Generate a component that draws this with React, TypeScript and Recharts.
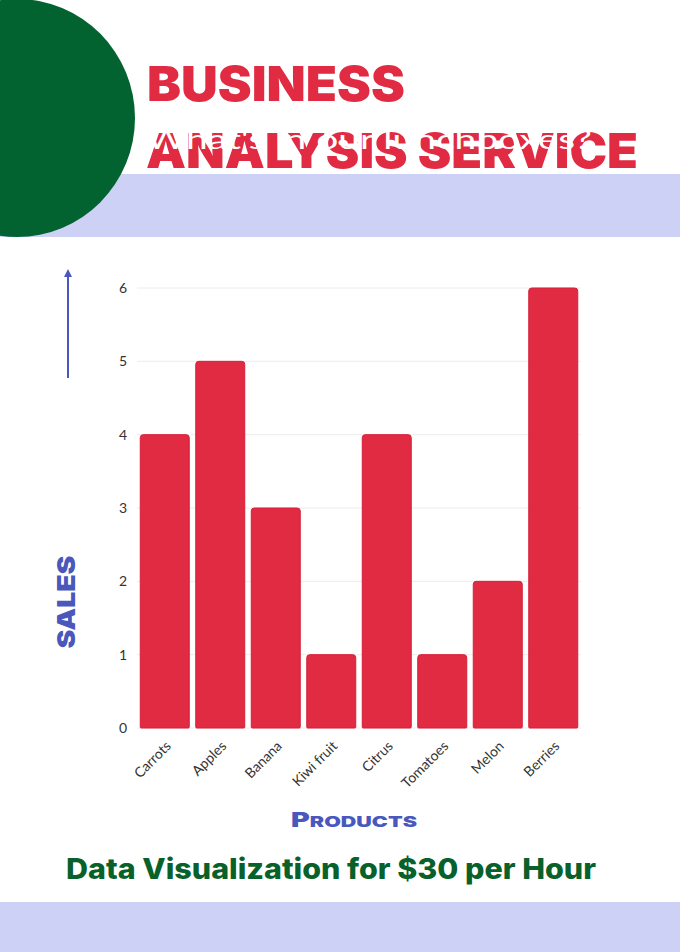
import { BarChart, Bar, XAxis, YAxis, CartesianGrid } from 'recharts';

const products = ['Carrots', 'Apples', 'Banana', 'Kiwi fruit', 'Citrus', 'Tomatoes', 'Melon', 'Berries'];
const sales = [4, 5, 3, 1, 4, 1, 2, 6];
const yTicks = [0, 1, 2, 3, 4, 5, 6];

const RED = '#e02b42';
const BLUE = '#4a58bd';
const GREEN = '#08612a';
const LAVENDER = '#cdd1f6';

const data = products.map((name, i) => ({ name, sales: sales[i] }));

function Decorations() {
  return (
    <svg
      width={680}
      height={952}
      style={{ position: 'absolute', left: 0, top: 0, pointerEvents: 'none' }}
    >
      <rect x={0} y={174} width={680} height={63} fill={LAVENDER} />
      <rect x={0} y={902} width={680} height={50} fill={LAVENDER} />
      <ellipse cx={17} cy={118} rx={118} ry={119} fill="#026330" />
      <g fontFamily="Inter, Roboto, sans-serif" fontWeight={900} fill={RED}>
        <text x={147} y={101} fontSize={48} textLength={258} lengthAdjust="spacingAndGlyphs">
          BUSINESS
        </text>
        <text x={146} y={168} fontSize={48} textLength={492} lengthAdjust="spacingAndGlyphs">
          ANALYSIS SERVICE
        </text>
      </g>
      {/* white subtitle sits on top of the red title, as in the original */}
      <text
        x={146}
        y={149}
        fontSize={27}
        fill="#ffffff"
        fontFamily="Lato, sans-serif"
        textLength={446}
        lengthAdjust="spacingAndGlyphs"
      >
        What's in our lunchboxes?
      </text>
      <line x1={68} y1={378} x2={68} y2={276} stroke={BLUE} strokeWidth={2} />
      <polygon points="68,269 64,277 72,277" fill={BLUE} />
      <text
        transform="translate(75,602) rotate(-90)"
        textAnchor="middle"
        fontSize={25}
        fontWeight={900}
        fill={BLUE}
        fontFamily="Inter, sans-serif"
        textLength={93}
        lengthAdjust="spacingAndGlyphs"
      >
        SALES
      </text>
      <text
        x={354}
        y={827}
        textAnchor="middle"
        fontWeight={900}
        fill={BLUE}
        fontFamily="Inter, sans-serif"
        textLength={126}
        lengthAdjust="spacingAndGlyphs"
      >
        <tspan fontSize={20}>P</tspan>
        <tspan fontSize={15}>RODUCTS</tspan>
      </text>
      <text
        x={66}
        y={879}
        fontSize={28}
        fontWeight={800}
        fill={GREEN}
        fontFamily="Inter, Roboto, sans-serif"
        textLength={530}
        lengthAdjust="spacingAndGlyphs"
      >
        Data Visualization for $30 per Hour
      </text>
    </svg>
  );
}

export default function App() {
  return (
    <div
      style={{
        position: 'absolute',
        left: 0,
        top: 0,
        width: 680,
        height: 952,
        background: '#ffffff',
        overflow: 'hidden',
      }}
    >
      <Decorations />
      <div style={{ position: 'absolute', left: 0, top: 0 }}>
        <BarChart
          width={680}
          height={952}
          data={data}
          margin={{ top: 288, right: 99, bottom: 164, left: 107 }}
          barCategoryGap={3.25}
        >
          <CartesianGrid vertical={false} stroke="#ececec" />
          <XAxis
            dataKey="name"
            height={60}
            axisLine={false}
            tickLine={false}
            interval={0}
            angle={-45}
            textAnchor="end"
            tickMargin={6}
            tick={{ fontSize: 14, fill: '#333333', fontFamily: 'Lato, sans-serif' }}
          />
          <YAxis
            width={30}
            domain={[0, 6]}
            ticks={yTicks}
            axisLine={false}
            tickLine={false}
            tickMargin={4}
            tick={{ fontSize: 14, fill: '#333333', fontFamily: 'Lato, sans-serif' }}
          />
          <Bar
            dataKey="sales"
            fill={RED}
            stroke="#d81f37"
            strokeWidth={1}
            radius={[3, 3, 1, 1]}
            isAnimationActive={false}
          />
        </BarChart>
      </div>
    </div>
  );
}
